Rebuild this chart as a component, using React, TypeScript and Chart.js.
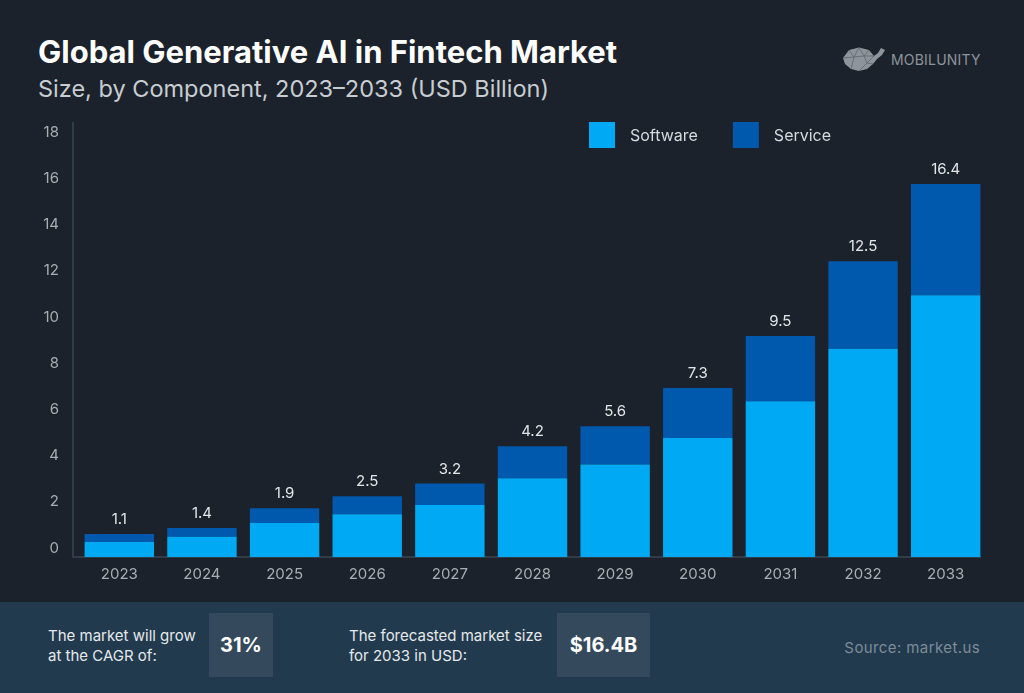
import React, { useEffect, useRef } from "react";
import { Chart, registerables } from "chart.js";

Chart.register(...registerables);

const categories = ["2023", "2024", "2025", "2026", "2027", "2028", "2029", "2030", "2031", "2032", "2033"];
const softwareValues = [0.65, 0.88, 1.47, 1.85, 2.25, 3.41, 4.0, 5.15, 6.74, 9.02, 11.33];
const serviceValues = [0.35, 0.38, 0.64, 0.78, 0.93, 1.38, 1.66, 2.17, 2.83, 3.78, 4.82];
const totalLabels = ["1.1", "1.4", "1.9", "2.5", "3.2", "4.2", "5.6", "7.3", "9.5", "12.5", "16.4"];
const seriesNames = ["Software", "Service"];

const FONT = 'Inter, "Noto Sans", sans-serif';
const BG = "#1b222b";

const axisLinesPlugin = {
  id: "axisLines",
  beforeDatasetsDraw(chart: any) {
    const { ctx, chartArea } = chart;
    ctx.save();
    ctx.strokeStyle = "#3b4552";
    ctx.lineWidth = 1.5;
    ctx.beginPath();
    ctx.moveTo(chartArea.left - 5, chartArea.top);
    ctx.lineTo(chartArea.left - 5, chartArea.bottom);
    ctx.lineTo(chartArea.right - 6, chartArea.bottom);
    ctx.stroke();
    ctx.restore();
  },
};

const valueLabelsPlugin = {
  id: "valueLabels",
  afterDatasetsDraw(chart: any) {
    const { ctx } = chart;
    const meta = chart.getDatasetMeta(chart.data.datasets.length - 1);
    ctx.save();
    ctx.fillStyle = "#e3e6e9";
    ctx.font = `15px ${FONT}`;
    ctx.textAlign = "center";
    ctx.textBaseline = "alphabetic";
    meta.data.forEach((bar: any, i: number) => {
      ctx.fillText(totalLabels[i], bar.x, bar.y - 10);
    });
    ctx.restore();
  },
};

const customLegendPlugin = {
  id: "customLegend",
  afterDraw(chart: any) {
    const { ctx } = chart;
    const startX = 589;
    const top = 12;
    const box = 26;
    ctx.save();
    ctx.font = `16px ${FONT}`;
    ctx.textBaseline = "middle";
    let x = startX;
    chart.data.datasets.forEach((ds: any) => {
      ctx.fillStyle = ds.backgroundColor;
      ctx.fillRect(x, top, box, box);
      x += box + 15;
      ctx.fillStyle = "#d6dade";
      ctx.textAlign = "left";
      ctx.fillText(ds.label, x, top + box / 2 + 1);
      x += ctx.measureText(ds.label).width + 35;
    });
    ctx.restore();
  },
};

function BarChart() {
  const ref = useRef<HTMLCanvasElement | null>(null);
  useEffect(() => {
    if (!ref.current) return;
    const chart = new Chart(ref.current, {
      type: "bar",
      data: {
        labels: categories,
        datasets: [
          {
            label: seriesNames[0],
            data: softwareValues,
            backgroundColor: "#00a9f4",
            borderWidth: 0,
            barPercentage: 0.84,
            categoryPercentage: 1,
          },
          {
            label: seriesNames[1],
            data: serviceValues,
            backgroundColor: "#0059ad",
            borderWidth: 0,
            barPercentage: 0.84,
            categoryPercentage: 1,
          },
        ],
      },
      options: {
        responsive: true,
        maintainAspectRatio: false,
        animation: false,
        layout: { padding: { top: 12, right: 37, left: 0, bottom: 0 } },
        plugins: {
          legend: { display: false },
          tooltip: { enabled: false },
        },
        scales: {
          x: {
            stacked: true,
            grid: { display: false, drawTicks: false },
            border: { display: false },
            ticks: { color: "#a9aeb4", font: { family: FONT, size: 15 }, padding: 8 },
            afterFit: (s: any) => {
              s.height = 35;
              s.paddingLeft = 0;
              s.paddingRight = 0;
            },
          },
          y: {
            stacked: true,
            min: 0,
            max: 18.83,
            grid: { display: false, drawTicks: false },
            border: { display: false },
            ticks: {
              stepSize: 2,
              includeBounds: false,
              color: "#a9aeb4",
              font: { family: FONT, size: 15 },
              padding: 19,
              labelOffset: -9,
            },
            afterFit: (s: any) => {
              s.width = 78;
              s.paddingTop = 0;
              s.paddingBottom = 0;
            },
          },
        },
      },
      plugins: [axisLinesPlugin, valueLabelsPlugin, customLegendPlugin],
    } as any);
    return () => chart.destroy();
  }, []);
  return <canvas ref={ref} />;
}

function Whale() {
  return (
    <svg width="44" height="24" viewBox="0 0 44 24" style={{ display: "block" }}>
      <polygon
        points="1,11 7,3 17,0.5 27,3 32,9 36,6 39,1 43,3 40,8 35,12 31,17 25,22 17,24 9,22 3,17"
        fill="#8d949b"
      />
      <polyline points="7,3 12,10 17,0.5 22,9 27,3" fill="none" stroke="#5f666d" strokeWidth="0.8" />
      <polyline points="12,10 22,9 25,16 17,24" fill="none" stroke="#5f666d" strokeWidth="0.8" />
      <polyline points="1,11 12,10 9,22" fill="none" stroke="#5f666d" strokeWidth="0.8" />
      <polyline points="22,9 32,9 25,16 31,17" fill="none" stroke="#5f666d" strokeWidth="0.8" />
    </svg>
  );
}

export default function App() {
  useEffect(() => {
    document.body.style.margin = "0";
  }, []);
  return (
    <div
      style={{
        position: "fixed",
        left: 0,
        top: 0,
        width: 1024,
        height: 693,
        background: BG,
        fontFamily: FONT,
        overflow: "hidden",
      }}
    >
      <div
        style={{
          position: "absolute",
          left: 38,
          top: 33,
          fontSize: 31,
          fontWeight: 700,
          color: "#ffffff",
          letterSpacing: 0,
          whiteSpace: "nowrap",
          lineHeight: "38px",
        }}
      >
        Global Generative AI in Fintech Market
      </div>
      <div
        style={{
          position: "absolute",
          left: 38,
          top: 74,
          fontSize: 23.5,
          color: "#c7ccd1",
          letterSpacing: 0,
          whiteSpace: "nowrap",
          lineHeight: "30px",
        }}
      >
        Size, by Component, 2023–2033 (USD Billion)
      </div>
      <div style={{ position: "absolute", left: 842, top: 47, display: "flex", alignItems: "center" }}>
        <Whale />
        <span style={{ marginLeft: 5, fontSize: 14, color: "#8d949b", letterSpacing: 0.2 }}>MOBILUNITY</span>
      </div>
      <div style={{ position: "absolute", left: 0, top: 110, width: 1024, height: 482 }}>
        <BarChart />
      </div>
      <div
        style={{
          position: "absolute",
          left: 0,
          top: 602,
          width: 1024,
          height: 91,
          background: "#213a4d",
        }}
      >
        <div style={{ position: "absolute", left: 48, top: 24, fontSize: 15, lineHeight: "20px", color: "#e6e9ec" }}>
          The market will grow
          <br />
          at the CAGR of:
        </div>
        <div
          style={{
            position: "absolute",
            left: 209,
            top: 11,
            width: 64,
            height: 64,
            background: "#34495c",
            color: "#ffffff",
            fontWeight: 700,
            fontSize: 20,
            display: "flex",
            alignItems: "center",
            justifyContent: "center",
          }}
        >
          31%
        </div>
        <div style={{ position: "absolute", left: 349, top: 24, fontSize: 15, lineHeight: "20px", color: "#e6e9ec" }}>
          The forecasted market size
          <br />
          for 2033 in USD:
        </div>
        <div
          style={{
            position: "absolute",
            left: 557,
            top: 11,
            width: 93,
            height: 64,
            background: "#34495c",
            color: "#ffffff",
            fontWeight: 700,
            fontSize: 20,
            display: "flex",
            alignItems: "center",
            justifyContent: "center",
          }}
        >
          $16.4B
        </div>
        <div style={{ position: "absolute", right: 44, top: 36, fontSize: 15, color: "#7f8c98", letterSpacing: 0.4 }}>
          Source: market.us
        </div>
      </div>
    </div>
  );
}
